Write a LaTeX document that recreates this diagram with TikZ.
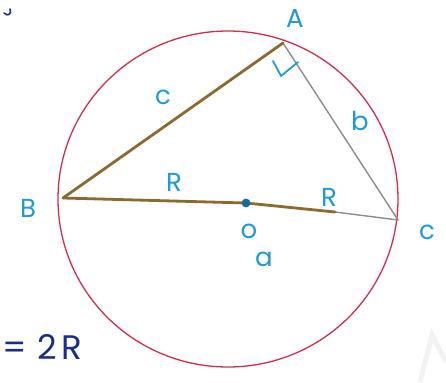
\documentclass[tikz,border=0pt]{standalone}
\usepackage{fontspec}
\setmainfont{Poppins}
\definecolor{circred}{HTML}{D0304A}
\definecolor{sidebrown}{HTML}{8A6A2E}
\definecolor{sidegray}{HTML}{8C8C8C}
\definecolor{lblblue}{HTML}{1E9AD6}
\definecolor{inkblue}{HTML}{1C2C8C}
\tikzset{
  lbl/.style={text=lblblue, font=\fontsize{26}{26}\selectfont, inner sep=0pt},
  thickside/.style={draw=sidebrown, line width=2.8pt, line cap=round},
  thinside/.style={draw=sidegray, line width=1.4pt, line cap=round},
}
\begin{document}
\begin{tikzpicture}[x=1pt,y=-1pt]
\useasboundingbox (0,0) rectangle (446,382);
% faint watermark
\draw[gray!10, line width=5pt] (420,382) -- (432,335) -- (446,362);
% circumcircle
\draw[circred, line width=1.3pt] (228,199) ellipse [x radius=170, y radius=168];
% points
\coordinate (A) at (283,43);
\coordinate (B) at (63,198);
\coordinate (C) at (398,220);
\coordinate (O) at (246,203);
\coordinate (Rend) at (335,212);
% sides
\draw[thinside] (A) -- (C);
\draw[thinside] (Rend) -- (C);
\draw[thickside] (B) -- (A);
\draw[thickside] (B) -- (O) -- (Rend);
\fill[lblblue!70!black] (O) circle (4.4);
% right angle mark
\coordinate (r1) at (273,61);
\coordinate (r2) at (281,76);
\coordinate (r3) at (298,62);
\draw[lblblue, line width=1.8pt, line cap=round, line join=round] (r1) -- (r2) -- (r3);
% labels
\node[lbl] (lA) at (295,18) {A};
\node[lbl] (lB) at (28,208) {B};
\node[lbl] (lC) at (427,232) {c};
\node[lbl] (lc) at (163,97) {c};
\node[lbl] (lb) at (360,121) {b};
\node[lbl] (lR1) at (174,182) {R};
\node[lbl] (lR2) at (329,197) {R};
\node[lbl] (lO) at (249,231) {o};
\node[lbl] (la) at (264,259) {a};
\node[text=inkblue, font=\fontsize{34}{34}\selectfont, inner sep=0pt, anchor=east] (eq) at (82,347) {=\hspace{10pt}2\hspace{4pt}R};
% cut-off fragment at top-left
\draw[inkblue, line width=1.6pt, line cap=round] (4,13) .. controls (8,17) and (12,14) .. (10,9);
\end{tikzpicture}
\end{document}
